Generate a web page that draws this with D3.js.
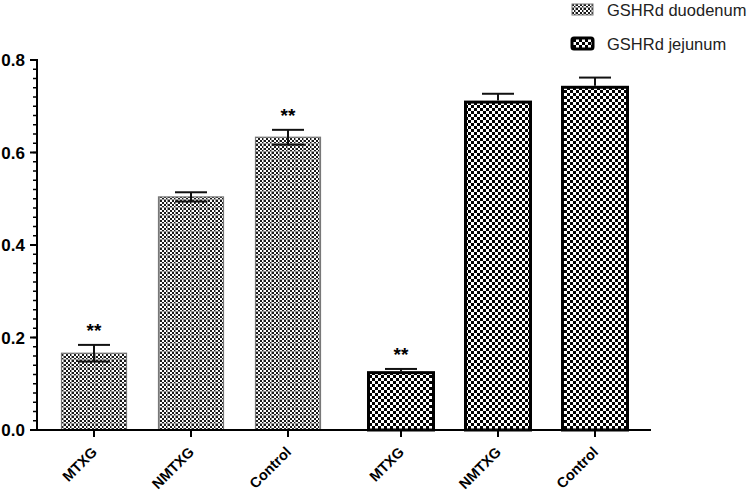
<!DOCTYPE html>
<html><head><meta charset="utf-8">
<script src="https://cdn.jsdelivr.net/npm/d3@7"></script>
<style>body{margin:0;background:#fff}svg{display:block}</style>
</head><body>
<svg id="c" width="756" height="497"></svg>
<script>
const groups = ["GSHRd duodenum", "GSHRd jejunum"];
const categories = ["MTXG", "NMTXG", "Control"];
const duodenumMean = [0.166, 0.504, 0.633];
const duodenumSem  = [0.018, 0.010, 0.016];
const jejunumMean  = [0.124, 0.709, 0.741];
const jejunumSem   = [0.008, 0.018, 0.021];
const significant  = [[true, false, true], [true, false, false]];
const yTicks = [0.0, 0.2, 0.4, 0.6, 0.8];
const yTickLabels = ["0.0", "0.2", "0.4", "0.6", "0.8"];

const data = [];
groups.forEach((g, gi) => {
  const means = gi === 0 ? duodenumMean : jejunumMean;
  const sems = gi === 0 ? duodenumSem : jejunumSem;
  categories.forEach((c, ci) => data.push({g, gi, c, mean: means[ci], sem: sems[ci], sig: significant[gi][ci]}));
});

const svg = d3.select("#c");
const font = "Arial, 'Liberation Sans', Helvetica, sans-serif";

const defs = svg.append("defs");
const p1 = defs.append("pattern").attr("id", "pd").attr("patternUnits", "userSpaceOnUse").attr("width", 8).attr("height", 8);
p1.append("rect").attr("width", 8).attr("height", 8).attr("fill", "#fff");
for (let i = 0; i < 4; i++) for (let j = 0; j < 4; j++) if ((i + j) % 2 === 0)
  p1.append("rect").attr("x", i * 2).attr("y", j * 2).attr("width", 2).attr("height", 2).attr("fill", "#1a1a1a");
p1.append("rect").attr("x", 7).attr("y", 0).attr("width", 1).attr("height", 8).attr("fill", "#999");
p1.append("rect").attr("x", 0).attr("y", 7).attr("width", 8).attr("height", 1).attr("fill", "#999");
const p2 = defs.append("pattern").attr("id", "pj").attr("patternUnits", "userSpaceOnUse").attr("width", 6).attr("height", 6);
p2.append("rect").attr("width", 6).attr("height", 6).attr("fill", "#fff");
p2.append("rect").attr("x", 0).attr("y", 0).attr("width", 3).attr("height", 3).attr("fill", "#000");
p2.append("rect").attr("x", 3).attr("y", 3).attr("width", 3).attr("height", 3).attr("fill", "#000");

const y = d3.scaleLinear().domain([0, 0.8]).range([430, 60]);
const xOuter = d3.scaleBand().domain(groups).range([45.5, 643.5]).paddingInner(16 / 307).paddingOuter(0);
const xInner = d3.scaleBand().domain(categories).range([0, xOuter.bandwidth()]).paddingInner(32 / 97).paddingOuter(16 / 97);
const cx = d => xOuter(d.g) + xInner(d.c) + xInner.bandwidth() / 2;

svg.selectAll("rect.bar").data(data).join("rect")
  .attr("class", "bar")
  .attr("x", d => xOuter(d.g) + xInner(d.c))
  .attr("width", xInner.bandwidth())
  .attr("y", d => y(d.mean))
  .attr("height", d => y(0) - y(d.mean))
  .attr("fill", d => d.gi === 0 ? "url(#pd)" : "url(#pj)")
  .attr("stroke", d => d.gi === 0 ? "#777" : "#000")
  .attr("stroke-width", d => d.gi === 0 ? 1.2 : 3);

const eb = svg.append("g").attr("stroke", "#111").attr("stroke-width", 2);
data.forEach(d => {
  const x = cx(d), top = y(d.mean + d.sem), bot = y(d.mean - d.sem), cap = 16;
  if (d.gi === 0) {
    eb.append("line").attr("x1", x).attr("x2", x).attr("y1", top).attr("y2", bot);
    eb.append("line").attr("x1", x - cap).attr("x2", x + cap).attr("y1", bot).attr("y2", bot);
  } else {
    eb.append("line").attr("x1", x).attr("x2", x).attr("y1", top).attr("y2", y(d.mean) - 1.5);
  }
  eb.append("line").attr("x1", x - cap).attr("x2", x + cap).attr("y1", top).attr("y2", top);
});

svg.selectAll("text.sig").data(data.filter(d => d.sig)).join("text")
  .attr("class", "sig")
  .attr("x", d => cx(d)).attr("y", d => y(d.mean + d.sem) - 8)
  .attr("text-anchor", "middle").attr("font-family", font).attr("font-weight", "bold")
  .attr("font-size", 19).text("**");

const minor = d3.range(0, 0.8001, 0.02);
const ya = svg.append("g");
ya.append("line").attr("x1", 37).attr("x2", 37).attr("y1", y(0.8) - 1).attr("y2", y(0) + 1).attr("stroke", "#000").attr("stroke-width", 2);
ya.selectAll("line.mn").data(minor).join("line").attr("class", "mn")
  .attr("x1", 33).attr("x2", 37).attr("y1", d => y(d)).attr("y2", d => y(d)).attr("stroke", "#000").attr("stroke-width", 1.5);
ya.selectAll("line.mj").data(yTicks).join("line").attr("class", "mj")
  .attr("x1", 30).attr("x2", 37).attr("y1", d => y(d)).attr("y2", d => y(d)).attr("stroke", "#000").attr("stroke-width", 2);
ya.selectAll("text").data(yTicks).join("text")
  .attr("x", 25).attr("y", d => y(d) + 6).attr("text-anchor", "end")
  .attr("font-family", font).attr("font-weight", "bold").attr("font-size", 17)
  .text((d, i) => yTickLabels[i]);

const xa = svg.append("g");
xa.append("line").attr("x1", 36).attr("x2", 651).attr("y1", 430).attr("y2", 430).attr("stroke", "#000").attr("stroke-width", 2);
xa.selectAll("line.t").data(data).join("line").attr("class", "t")
  .attr("x1", cx).attr("x2", cx).attr("y1", 430).attr("y2", 437).attr("stroke", "#000").attr("stroke-width", 2);
xa.selectAll("text").data(data).join("text")
  .attr("transform", d => `translate(${cx(d) + 4},${453}) rotate(-45)`)
  .attr("text-anchor", "end").attr("font-family", font).attr("font-weight", "bold").attr("font-size", 14.5)
  .text(d => d.c);

const lg = svg.append("g");
groups.forEach((g, i) => {
  const yy = 4 + i * 34;
  lg.append("rect").attr("x", 572).attr("y", yy).attr("width", 21).attr("height", 11)
    .attr("rx", i === 1 ? 2 : 0)
    .attr("fill", i === 0 ? "url(#pd)" : "url(#pj)")
    .attr("stroke", i === 0 ? "#777" : "#000").attr("stroke-width", i === 0 ? 1 : 3);
  lg.append("text").attr("x", 607).attr("y", yy + 12).attr("font-family", font).attr("font-size", 16.5)
    .attr("fill", "#222").text(g);
});
</script>
</body></html>
